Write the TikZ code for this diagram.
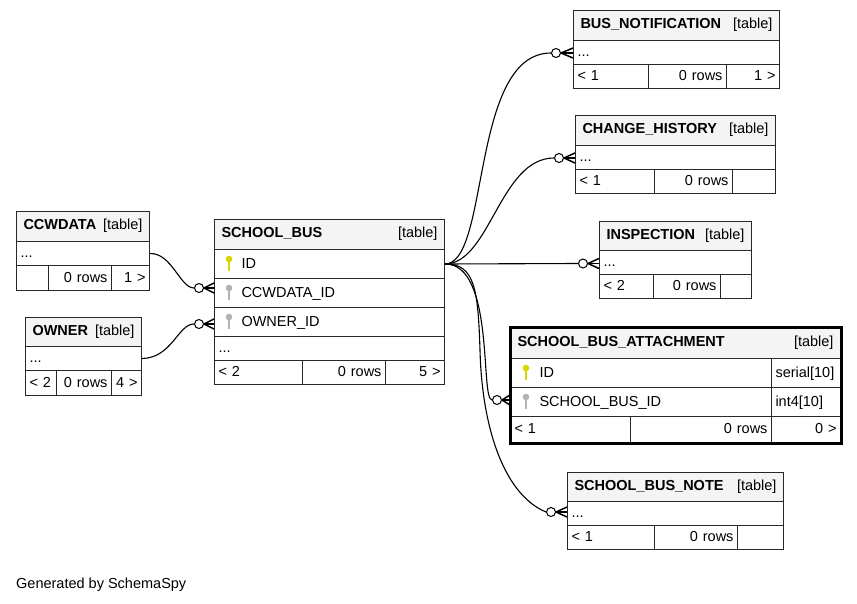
\documentclass[tikz,border=0pt]{standalone}
\usepackage{fontspec}
\setmainfont{Liberation Sans}
\usepackage{tikz}
\usetikzlibrary{positioning,calc}

\definecolor{pkcol}{RGB}{214,214,0}
\definecolor{fkcol}{RGB}{178,178,178}
\definecolor{headfill}{RGB}{244,244,244}
\definecolor{edge}{RGB}{40,40,40}
\setlength{\parindent}{0pt}
\newcommand{\hdr}[1]{\hbox to\hsize{\textbf{#1}\hfil[table]}}

\begin{document}
\begin{tikzpicture}[x=1bp,y=-1bp]
        \tikzstyle{cell}=[draw=edge, line width=1bp, anchor=north west, inner xsep=4bp, inner ysep=0pt, text height=10.5bp, text depth=2bp, align=left, font=\fontsize{14.5bp}{16bp}\selectfont]
        \tikzstyle{cellr}=[cell, align=right]
        \tikzstyle{head}=[cell, fill=headfill, inner xsep=7bp, text depth=4bp]
        \tikzstyle{opt}=[circle, draw=black, fill=white, line width=1bp, inner sep=0pt, minimum size=9bp]
        \tikzstyle{rel}=[draw=black, line width=1.1bp]
        \tikzstyle{crow}=[draw=black, line width=1.5bp]
        \tikzset{pics/dbkey/.style={code={
            \fill[#1] (0,-5) circle (3.3bp);
            \fill[#1] (-1.2,-5) rectangle (1.2,6.5);}}}

        \useasboundingbox (0,0) rectangle (857,604);

        % CCWDATA
        \node[head, text width=119bp, minimum height=30bp] (ccw-head) at (16,211) {\hdr{CCWDATA}};
        \node[cell, text width=125bp, minimum height=24bp] (ccw-more) at (16,241) {...};
        \node[cell, text width=24bp, minimum height=25bp] (ccw-f1) at (16,265) {};
        \node[cellr, text width=55bp, minimum height=25bp] (ccw-f2) at (48,265) {0 rows};
        \node[cellr, text width=30bp, minimum height=25bp] (ccw-f3) at (111,265) {1 >};

        % OWNER
        \node[head, text width=102bp, minimum height=29bp] (own-head) at (25,317) {\hdr{OWNER}};
        \node[cell, text width=108bp, minimum height=24bp] (own-more) at (25,346) {...};
        \node[cell, text width=23bp, minimum height=25bp] (own-f1) at (25,370) {< 2};
        \node[cellr, text width=47bp, minimum height=25bp] (own-f2) at (56,370) {0 rows};
        \node[cellr, text width=22bp, minimum height=25bp] (own-f3) at (111,370) {4 >};

        % SCHOOL_BUS
        \node[head, text width=216bp, minimum height=30bp] (bus-head) at (214,219) {\hdr{SCHOOL\_BUS}};
        \node[cell, text width=222bp, minimum height=29bp] (bus-id) at (214,249) {\hspace*{23bp}ID};
        \node[cell, text width=222bp, minimum height=29bp] (bus-ccw) at (214,278) {\hspace*{23bp}CCWDATA\_ID};
        \node[cell, text width=222bp, minimum height=29bp] (bus-own) at (214,307) {\hspace*{23bp}OWNER\_ID};
        \node[cell, text width=222bp, minimum height=24bp] (bus-more) at (214,336) {...};
        \node[cell, text width=80bp, minimum height=24bp] (bus-f1) at (214,360) {< 2};
        \node[cellr, text width=75bp, minimum height=24bp] (bus-f2) at (302,360) {0 rows};
        \node[cellr, text width=51bp, minimum height=24bp] (bus-f3) at (385,360) {5 >};
        \pic at ([xshift=15bp]bus-id.west) {dbkey=pkcol};
        \pic at ([xshift=15bp]bus-ccw.west) {dbkey=fkcol};
        \pic at ([xshift=15bp]bus-own.west) {dbkey=fkcol};

        % BUS_NOTIFICATION
        \node[head, text width=192bp, minimum height=30bp] (not-head) at (573,10) {\hdr{BUS\_NOTIFICATION}};
        \node[cell, text width=198bp, minimum height=24bp] (not-more) at (573,40) {...};
        \node[cell, text width=67bp, minimum height=24bp] (not-f1) at (573,64) {< 1};
        \node[cellr, text width=70bp, minimum height=24bp] (not-f2) at (648,64) {0 rows};
        \node[cellr, text width=45bp, minimum height=24bp] (not-f3) at (726,64) {1 >};

        % CHANGE_HISTORY
        \node[head, text width=186bp, minimum height=30bp] (chg-head) at (575,115) {\hdr{CHANGE\_HISTORY}};
        \node[cell, text width=192bp, minimum height=24bp] (chg-more) at (575,145) {...};
        \node[cell, text width=71bp, minimum height=24bp] (chg-f1) at (575,169) {< 1};
        \node[cellr, text width=70bp, minimum height=24bp] (chg-f2) at (654,169) {0 rows};
        \node[cellr, text width=35bp, minimum height=24bp] (chg-f3) at (732,169) {};

        % INSPECTION
        \node[head, text width=138bp, minimum height=29bp] (ins-head) at (599,221) {\hdr{INSPECTION}};
        \node[cell, text width=144bp, minimum height=24bp] (ins-more) at (599,250) {...};
        \node[cell, text width=46bp, minimum height=24bp] (ins-f1) at (599,274) {< 2};
        \node[cellr, text width=59bp, minimum height=24bp] (ins-f2) at (653,274) {0 rows};
        \node[cellr, text width=23bp, minimum height=24bp] (ins-f3) at (720,274) {};

        % SCHOOL_BUS_ATTACHMENT
        \node[head, text width=316bp, minimum height=31bp] (att-head) at (510,327) {\hdr{SCHOOL\_BUS\_ATTACHMENT}};
        \node[cell, text width=253bp, minimum height=29bp] (att-id) at (510,358) {\hspace*{25bp}ID};
        \node[cell, text width=61bp, minimum height=29bp] (att-idt) at (771,358) {serial[10]};
        \node[cell, text width=253bp, minimum height=29bp] (att-sbid) at (510,387) {\hspace*{25bp}SCHOOL\_BUS\_ID};
        \node[cell, text width=61bp, minimum height=29bp] (att-sbidt) at (771,387) {int4[10]};
        \node[cell, text width=112bp, minimum height=26bp] (att-f1) at (510,416) {< 1};
        \node[cellr, text width=133bp, minimum height=26bp] (att-f2) at (630,416) {0 rows};
        \node[cellr, text width=61bp, minimum height=26bp] (att-f3) at (771,416) {0 >};
        \draw[line width=3bp] (att-head.north west) rectangle (att-f3.south east);
        \pic at ([xshift=16bp]att-id.west) {dbkey=pkcol};
        \pic at ([xshift=16bp]att-sbid.west) {dbkey=fkcol};

        % SCHOOL_BUS_NOTE
        \node[head, text width=202bp, minimum height=29bp] (note-head) at (567,472) {\hdr{SCHOOL\_BUS\_NOTE}};
        \node[cell, text width=208bp, minimum height=24bp] (note-more) at (567,501) {...};
        \node[cell, text width=79bp, minimum height=24bp] (note-f1) at (567,525) {< 1};
        \node[cellr, text width=75bp, minimum height=24bp] (note-f2) at (654,525) {0 rows};
        \node[cellr, text width=38bp, minimum height=24bp] (note-f3) at (737,525) {};

        % optional ends
        \node[opt] (c1) at (199,288) {};
        \node[opt] (c2) at (199,324) {};
        \node[opt] (c3) at (556,53) {};
        \node[opt] (c4) at (559,158) {};
        \node[opt] (c5) at (583,263.5) {};
        \node[opt] (c6) at (497,400) {};
        \node[opt] (c7) at (551,512) {};

        % relations
        \draw[rel] (ccw-more.east) .. controls (172,253) and (180,288) .. (c1.west);
        \draw[rel] (own-more.east) .. controls (172,358) and (178,324) .. (c2.west);
        \draw[rel] (bus-id.east) .. controls (490,263.5) and (470,53) .. (c3.west);
        \draw[rel] (bus-id.east) .. controls (490,263.5) and (500,158) .. (c4.west);
        \draw[rel] (bus-id.east) -- (c5.west);
        \draw[rel] (bus-id.east) .. controls (495,263.5) and (480,400) .. (c6.west);
        \draw[rel] (bus-id.east) .. controls (475,263.5) and (478,290) .. (480,350) .. controls (482,430) and (505,495) .. (c7.west);

        % crow's feet
        \foreach \c/\r in {c1/bus-ccw, c2/bus-own, c3/not-more, c4/chg-more, c5/ins-more, c6/att-sbid, c7/note-more}
            \foreach \d in {-5,0,5}
                \draw[crow] (\c.east) -- ($(\c.east -| \r.west)+(0,\d)$);

        \node[anchor=base west, inner sep=0pt, font=\fontsize{14.5bp}{16bp}\selectfont] (gen) at (16,588) {Generated by SchemaSpy};
\end{tikzpicture}
\end{document}
